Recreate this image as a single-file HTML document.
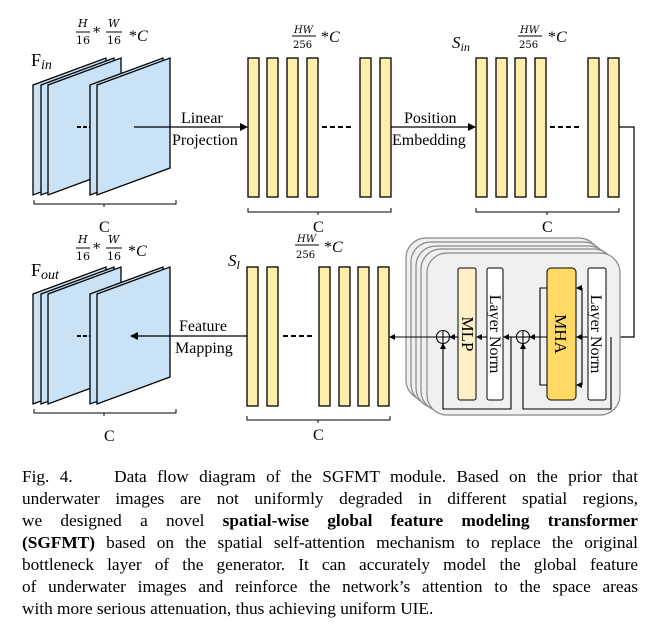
<!DOCTYPE html>
<html><head><meta charset="utf-8"><style>
body{margin:0;background:#fff;width:657px;height:635px;overflow:hidden;position:relative}
svg{position:absolute;left:0;top:0}
.cap{position:absolute;left:22px;width:616px;font-family:"Liberation Serif",serif;font-size:17.3px;line-height:22px;color:#000}
.l{text-align:justify;text-align-last:justify;white-space:nowrap;height:22px}
.last{text-align-last:left}
</style></head><body>
<svg width="657" height="450" viewBox="0 0 657 450" font-family="Liberation Serif, serif">
<defs>
<marker id="a" markerWidth="8" markerHeight="8" refX="7" refY="4" orient="auto" markerUnits="userSpaceOnUse"><path d="M0,0 L8,4 L0,8 z" fill="#000"/></marker>
<marker id="s" markerWidth="6" markerHeight="6" refX="5" refY="3" orient="auto" markerUnits="userSpaceOnUse"><path d="M0,0 L6,3 L0,6 z" fill="#000"/></marker>
<g id="slabs">
<polygon points="33,85 106,58 106,168 33,195" fill="#c9e2f5" stroke="#000" stroke-width="1.3"/>
<polygon points="41,85 114,58 114,168 41,195" fill="#c9e2f5" stroke="#000" stroke-width="1.3"/>
<polygon points="48,85 121,58 121,168 48,195" fill="#c9e2f5" stroke="#000" stroke-width="1.3"/>
<polygon points="90,85 163,58 163,168 90,195" fill="#c9e2f5" stroke="#000" stroke-width="1.3"/>
<polygon points="97,85 170,58 170,168 97,195" fill="#c9e2f5" stroke="#000" stroke-width="1.3"/>
<line x1="77" y1="127" x2="90" y2="127" stroke="#000" stroke-width="2" stroke-dasharray="4,2"/>
<path d="M34,200 v4 h70 v3 v-3 h72 v-4" fill="none" stroke="#000" stroke-width="1"/>
</g>
<g id="bar"><rect x="0" y="0" width="11" height="139" fill="#fdeeaa" stroke="#000" stroke-width="1.3"/></g>
</defs>
<use href="#slabs"/>
<text x="31" y="66" font-size="18">F<tspan font-style="italic" font-size="14" dy="3">in</tspan></text>
<g font-size="12" font-style="italic" font-family="DejaVu Serif, serif">
<text x="78" y="27" font-size="11">H</text><line x1="76" y1="32" x2="90" y2="32" stroke="#000"/><text x="76" y="44" font-size="11" font-style="normal">16</text>
<text x="93" y="37" font-size="14" font-style="normal">*</text>
<text x="108" y="27" font-size="11">W</text><line x1="106" y1="32" x2="122" y2="32" stroke="#000"/><text x="107" y="44" font-size="11" font-style="normal">16</text>
<text x="129" y="41" font-size="16" font-family="Liberation Serif, serif" font-style="normal">*<tspan font-style="italic">C</tspan></text>
</g>
<line x1="134" y1="127" x2="247" y2="127" stroke="#000" stroke-width="1.3" marker-end="url(#a)"/>
<text x="181" y="123" font-size="16">Linear</text>
<text x="172" y="145" font-size="16">Projection</text>

<g transform="translate(248,58)"><use href="#bar"/></g>
<g transform="translate(267,58)"><use href="#bar"/></g>
<g transform="translate(287,58)"><use href="#bar"/></g>
<g transform="translate(307,58)"><use href="#bar"/></g>
<g transform="translate(360,58)"><use href="#bar"/></g>
<g transform="translate(380,58)"><use href="#bar"/></g>
<line x1="322" y1="127" x2="354" y2="127" stroke="#000" stroke-width="2" stroke-dasharray="5,3"/>
<path d="M248,208 v4 h70 v3 v-3 h73 v-4" fill="none" stroke="#000"/>
<text x="313" y="232" font-size="16">C</text>
<text x="99" y="232" font-size="16">C</text>
<g font-family="DejaVu Serif, serif">
<text x="294" y="33" font-size="10" font-style="italic">HW</text><line x1="292" y1="36" x2="316" y2="36" stroke="#000"/><text x="293" y="48" font-size="10">256</text>
<text x="321" y="42" font-size="16" font-family="Liberation Serif, serif">*<tspan font-style="italic">C</tspan></text>
</g>

<line x1="391" y1="127" x2="475" y2="127" stroke="#000" stroke-width="1.3" marker-end="url(#a)"/>
<text x="404" y="123" font-size="16">Position</text>
<text x="392" y="145" font-size="16">Embedding</text>

<g transform="translate(476,58)"><use href="#bar"/></g>
<g transform="translate(496,58)"><use href="#bar"/></g>
<g transform="translate(515,58)"><use href="#bar"/></g>
<g transform="translate(535,58)"><use href="#bar"/></g>
<g transform="translate(588,58)"><use href="#bar"/></g>
<g transform="translate(608,58)"><use href="#bar"/></g>
<line x1="550" y1="127" x2="582" y2="127" stroke="#000" stroke-width="2" stroke-dasharray="5,3"/>
<path d="M476,208 v4 h71 v3 v-3 h72 v-4" fill="none" stroke="#000"/>
<text x="542" y="232" font-size="16">C</text>
<text x="452" y="48" font-size="17" font-style="italic">S<tspan font-size="12" dy="3">in</tspan></text>
<g font-family="DejaVu Serif, serif">
<text x="520" y="33" font-size="10" font-style="italic">HW</text><line x1="518" y1="36" x2="542" y2="36" stroke="#000"/><text x="519" y="48" font-size="10">256</text>
<text x="548" y="42" font-size="16" font-family="Liberation Serif, serif">*<tspan font-style="italic">C</tspan></text>
</g>
<polyline points="619,127 634,127 634,337 607,337" fill="none" stroke="#000" stroke-width="1.2" marker-end="url(#s)"/>

<g transform="translate(0,209)"><use href="#slabs"/></g>
<text x="104" y="441" font-size="16">C</text>
<text x="31" y="276" font-size="18">F<tspan font-style="italic" font-size="14" dy="3">out</tspan></text>
<g font-family="DejaVu Serif, serif">
<text x="78" y="243" font-size="11" font-style="italic">H</text><line x1="76" y1="248" x2="90" y2="248" stroke="#000"/><text x="76" y="260" font-size="11">16</text>
<text x="93" y="253" font-size="14">*</text>
<text x="108" y="243" font-size="11" font-style="italic">W</text><line x1="106" y1="248" x2="122" y2="248" stroke="#000"/><text x="107" y="260" font-size="11">16</text>
<text x="128" y="256" font-size="16" font-family="Liberation Serif, serif">*<tspan font-style="italic">C</tspan></text>
</g>
<line x1="247" y1="336" x2="131" y2="336" stroke="#000" stroke-width="1.3" marker-end="url(#a)"/>
<text x="179" y="331" font-size="16">Feature</text>
<text x="175" y="353" font-size="16">Mapping</text>

<g transform="translate(247,267)"><use href="#bar"/></g>
<g transform="translate(267,267)"><use href="#bar"/></g>
<g transform="translate(319,267)"><use href="#bar"/></g>
<g transform="translate(339,267)"><use href="#bar"/></g>
<g transform="translate(358,267)"><use href="#bar"/></g>
<g transform="translate(378,267)"><use href="#bar"/></g>
<line x1="283" y1="336" x2="315" y2="336" stroke="#000" stroke-width="2" stroke-dasharray="5,3"/>
<path d="M247,416 v4 h71 v3 v-3 h72 v-4" fill="none" stroke="#000"/>
<text x="313" y="440" font-size="16">C</text>
<text x="228" y="266" font-size="17" font-style="italic">S<tspan font-size="12" dy="3">l</tspan></text>
<g font-family="DejaVu Serif, serif">
<text x="297" y="242" font-size="10" font-style="italic">HW</text><line x1="295" y1="245" x2="319" y2="245" stroke="#000"/><text x="296" y="258" font-size="10">256</text>
<text x="324" y="252" font-size="16" font-family="Liberation Serif, serif">*<tspan font-style="italic">C</tspan></text>
</g>

<g fill="#f0f0f0" stroke="#888" stroke-width="1.2">
<rect x="406" y="238" width="193" height="162" rx="20"/>
<rect x="411" y="242" width="193" height="162" rx="20"/>
<rect x="416" y="246" width="193" height="162" rx="20"/>
<rect x="421" y="249" width="193" height="162" rx="20"/>
<rect x="427" y="253" width="193" height="162" rx="20"/>
</g>
<rect x="458" y="268" width="18" height="132" rx="2" fill="#fdf0c8" stroke="#000"/>
<rect x="487" y="268" width="16" height="132" rx="2" fill="#fff" stroke="#000"/>
<rect x="547" y="268" width="29" height="132" rx="4" fill="#ffd966" stroke="#000"/>
<rect x="588" y="268" width="18" height="132" rx="2" fill="#fff" stroke="#000"/>
<g font-size="16">
<text transform="translate(462,334) rotate(90)" text-anchor="middle" font-size="17">MLP</text>
<text transform="translate(490,334) rotate(90)" text-anchor="middle">Layer Norm</text>
<text transform="translate(555,334) rotate(90)" text-anchor="middle" font-size="17">MHA</text>
<text transform="translate(591,334) rotate(90)" text-anchor="middle">Layer Norm</text>
</g>
<g fill="none" stroke="#000" stroke-width="1.1">
<line x1="588" y1="337" x2="577" y2="337" marker-end="url(#s)"/>
<polyline points="582,288 582,385"/>
<line x1="582" y1="288" x2="577" y2="288" marker-end="url(#s)"/>
<line x1="582" y1="385" x2="577" y2="385" marker-end="url(#s)"/>
<polyline points="547,288 540,288 540,385 547,385"/>
<line x1="547" y1="337" x2="530" y2="337" marker-end="url(#s)"/>
<circle cx="523" cy="337" r="6.5" fill="#fff"/>
<line x1="517" y1="337" x2="529" y2="337"/><line x1="523" y1="331" x2="523" y2="343"/>
<polyline points="611,337 611,409 523,409 523,344" marker-end="url(#s)"/>
<line x1="516" y1="337" x2="504" y2="337" marker-end="url(#s)"/>
<line x1="487" y1="337" x2="477" y2="337" marker-end="url(#s)"/>
<line x1="458" y1="337" x2="450" y2="337" marker-end="url(#s)"/>
<circle cx="443" cy="337" r="6.5" fill="#fff"/>
<line x1="437" y1="337" x2="449" y2="337"/><line x1="443" y1="331" x2="443" y2="343"/>
<polyline points="511,337 511,409 443,409 443,344" marker-end="url(#s)"/>
<line x1="436" y1="337" x2="390" y2="337" marker-end="url(#s)"/>
</g>
</svg>
<div class="cap" style="top:466px">
<div class="l">Fig. 4.&nbsp;&nbsp;&nbsp; Data flow diagram of the SGFMT module. Based on the prior that</div>
<div class="l">underwater images are not uniformly degraded in different spatial regions,</div>
<div class="l">we designed a novel <b>spatial-wise global feature modeling transformer</b></div>
<div class="l"><b>(SGFMT)</b> based on the spatial self-attention mechanism to replace the original</div>
<div class="l">bottleneck layer of the generator. It can accurately model the global feature</div>
<div class="l">of underwater images and reinforce the network’s attention to the space areas</div>
<div class="l last">with more serious attenuation, thus achieving uniform UIE.</div>
</div>
</body></html>
